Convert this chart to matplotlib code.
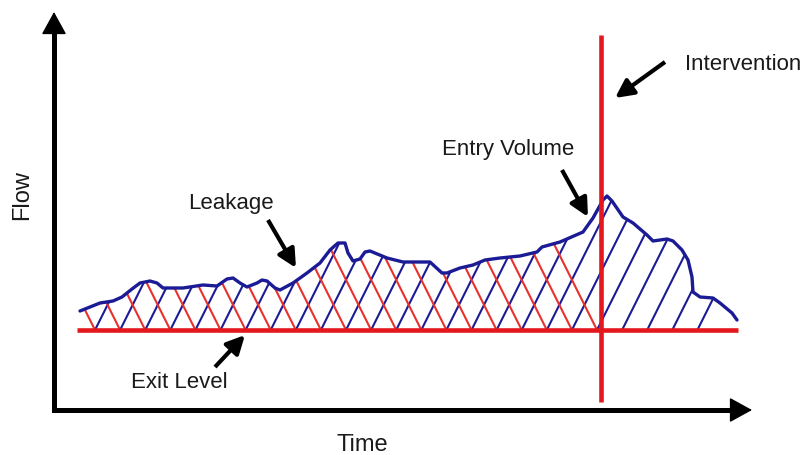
import matplotlib
matplotlib.use("Agg")
import matplotlib.pyplot as plt
import numpy as np
from matplotlib.patches import Polygon

plt.rcParams['font.family'] = ['Liberation Sans', 'DejaVu Sans']

# ---- data (time, flow) ----
curve_time = [26, 46, 59, 68, 78, 86, 96, 103, 109, 129, 149, 163, 173, 179, 186, 193,
              203, 208, 213, 221, 226, 239, 253, 266, 276, 284, 291, 294, 299, 306, 311,
              316, 333, 349, 376, 388, 393, 406, 419, 431, 446, 466, 483, 488, 506, 529,
              539, 549, 553, 558, 569, 579, 593, 599, 613, 619, 628, 634, 638, 639, 646,
              659, 666, 678, 683]
curve_flow = [99, 107, 109, 113, 121, 127, 129, 127, 122, 122, 125, 124, 131, 132, 127, 123,
              127, 130, 129, 122, 120, 127, 137, 147, 160, 167, 167, 157, 149, 151, 158,
              159, 152, 148, 148, 137, 137, 142, 145, 150, 152, 154, 158, 163, 168, 178,
              192, 210, 214, 209, 193, 187, 175, 169, 171, 169, 160, 150, 133, 118, 113,
              112, 107, 97, 90]
exit_level = 80
exit_start, exit_end = 23, 684
intervention_time = 547
intervention_flow = [8, 375]
axis_time_max = 698
axis_flow_max = 398

labels = {
    "Leakage": dict(text=(177, 207), tail=(214, 190), tip=(242, 142)),
    "Entry Volume": dict(text=(454, 261), tail=(508, 240), tip=(534, 193)),
    "Intervention": dict(text=(689, 346), tail=(611, 348), tip=(561, 312)),
    "Exit Level": dict(text=(125, 28), tail=(161, 43), tip=(191, 75)),
}

RED = '#e3171c'
HATCH_RED = '#e8302c'
BLUE = '#1b1b96'
TEXT = '#1a1a1a'

fig = plt.figure(figsize=(8.04, 4.55), dpi=100)
ax = fig.add_axes([0, 0, 1, 1])
ax.set_xlim(-54, 750)
ax.set_ylim(-45, 410)
ax.axis('off')

# region between flow curve and exit level
poly_pts = list(zip(curve_time, curve_flow)) + [(curve_time[-1], exit_level), (curve_time[0], exit_level)]
region = Polygon(poly_pts, closed=True, transform=ax.transData, facecolor='none', edgecolor='none')
ax.add_patch(region)

# hatch lines
spacing = 25.1
slope = 2.0
H = 250
first_bottom = 41
for k in range(0, 25):
    b = first_bottom + k * spacing
    ln, = ax.plot([b, b + H / slope], [exit_level, exit_level + H], color=BLUE, lw=1.5, zorder=2)
    ln.set_clip_path(region)
    if b <= intervention_time:
        ln2, = ax.plot([b - H / slope, b], [exit_level + H, exit_level], color=HATCH_RED, lw=1.5, zorder=2)
        ln2.set_clip_path(region)

# flow curve
ax.plot(curve_time, curve_flow, color=BLUE, lw=2.4, zorder=4, solid_capstyle='round', solid_joinstyle='round')

# exit level and intervention
ax.plot([exit_start, exit_end], [exit_level, exit_level], color=RED, lw=3.3, zorder=5, solid_capstyle='butt')
ax.plot([intervention_time, intervention_time], intervention_flow, color=RED, lw=3.3, zorder=5, solid_capstyle='butt')

# axes (L shape) with arrowheads
ax.plot([0, 0, axis_time_max - 10], [axis_flow_max - 10, 0, 0], color='black', lw=3.6,
        solid_joinstyle='miter', solid_capstyle='butt', zorder=6)
head = dict(arrowstyle='-|>,head_length=0.6,head_width=0.33', lw=1.0, color='black',
            mutation_scale=24, shrinkA=0, shrinkB=0)
ax.annotate('', xy=(0, axis_flow_max), xytext=(0, axis_flow_max - 30), arrowprops=head, zorder=6)
ax.annotate('', xy=(axis_time_max, 0), xytext=(axis_time_max - 30, 0), arrowprops=head, zorder=6)

ax.text(-32, 215, 'Flow', rotation=90, ha='center', va='center', fontsize=17, color=TEXT)
ax.text(308, -35, 'Time', ha='center', va='center', fontsize=17, color=TEXT)

for name, d in labels.items():
    ax.text(d['text'][0], d['text'][1], name, ha='center', va='center', fontsize=16, color=TEXT)
    ax.annotate('', xy=d['tip'], xytext=d['tail'],
                arrowprops=dict(arrowstyle='-|>,head_length=0.5,head_width=0.25', lw=3.0, color='black',
                                mutation_scale=22, shrinkA=0, shrinkB=0, capstyle='butt'), zorder=6)

fig.savefig('out.png', dpi=100, facecolor='white')
